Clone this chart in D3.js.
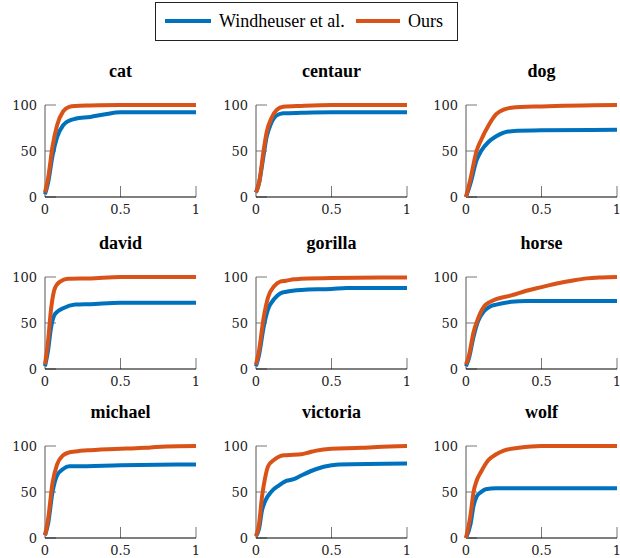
<!DOCTYPE html>
<html>
<head>
<meta charset="utf-8">
<script src="https://cdn.jsdelivr.net/npm/d3@7"></script>
<style>
  body { margin: 0; background: #fff; }
  svg { display: block; }
</style>
</head>
<body>
<svg width="620" height="558"></svg>
<script>
  const shapes = ['cat', 'centaur', 'dog', 'david', 'gorilla', 'horse', 'michael', 'victoria', 'wolf'];
  const seriesNames = ['Windheuser et al.', 'Ours'];
  const xTicks = [0, 0.5, 1];
  const yTicks = [0, 50, 100];

  // [x, percent] samples
  const windheuser = {
    cat:      [[0,3],[0.02,15],[0.05,45],[0.08,65],[0.12,78],[0.16,83],[0.2,85],[0.3,87],[0.4,90],[0.5,92],[0.6,92],[1,92]],
    centaur:  [[0,5],[0.02,15],[0.05,45],[0.07,65],[0.1,80],[0.14,89],[0.18,91],[0.3,91.5],[0.5,92],[1,92]],
    dog:      [[0,0],[0.03,15],[0.07,40],[0.1,50],[0.15,60],[0.2,66],[0.25,70],[0.3,71.5],[0.5,72.5],[1,73]],
    david:    [[0,3],[0.02,20],[0.04,45],[0.06,58],[0.08,62],[0.12,66],[0.2,70],[0.3,70.5],[0.5,72],[1,72]],
    gorilla:  [[0,3],[0.02,15],[0.05,45],[0.08,65],[0.12,76],[0.16,82],[0.2,84],[0.3,86],[0.5,87],[0.6,88],[1,88]],
    horse:    [[0,3],[0.02,12],[0.05,35],[0.08,52],[0.12,63],[0.16,68],[0.2,70],[0.3,73],[0.4,74],[1,74]],
    michael:  [[0,3],[0.02,15],[0.05,50],[0.08,68],[0.12,75],[0.16,78],[0.2,78],[0.5,79],[1,80]],
    victoria: [[0,2],[0.02,10],[0.04,30],[0.06,40],[0.1,50],[0.15,57],[0.2,62],[0.25,64],[0.3,68],[0.4,75],[0.5,79],[0.55,80],[1,81]],
    wolf:     [[0,0],[0.03,15],[0.05,35],[0.07,45],[0.1,50],[0.13,53],[0.2,54],[1,54]]
  };
  const ours = {
    cat:      [[0,5],[0.02,20],[0.05,55],[0.08,78],[0.12,93],[0.16,98],[0.2,99],[0.3,99.5],[0.5,100],[1,100]],
    centaur:  [[0,5],[0.02,15],[0.05,50],[0.07,70],[0.1,85],[0.14,95],[0.18,98],[0.3,99],[0.5,100],[1,100]],
    dog:      [[0,0],[0.03,20],[0.07,50],[0.1,62],[0.15,78],[0.2,90],[0.25,95],[0.3,97],[0.5,98.5],[1,100]],
    david:    [[0,5],[0.02,30],[0.04,65],[0.06,85],[0.08,92],[0.1,95],[0.15,98],[0.3,98.5],[0.5,100],[1,100]],
    gorilla:  [[0,5],[0.02,20],[0.05,55],[0.08,78],[0.12,90],[0.16,95],[0.2,96],[0.25,97.5],[0.3,98],[0.5,99],[1,99.5]],
    horse:    [[0,5],[0.02,15],[0.05,40],[0.08,55],[0.12,68],[0.16,73],[0.2,76],[0.3,80],[0.4,85],[0.5,89],[0.6,93],[0.7,96],[0.8,98.5],[0.9,99.5],[1,100]],
    michael:  [[0,3],[0.02,20],[0.05,60],[0.08,80],[0.12,90],[0.16,93],[0.2,94],[0.3,95.5],[0.5,97],[0.6,97.5],[0.7,98.5],[0.8,99.5],[1,100]],
    victoria: [[0,2],[0.02,15],[0.04,45],[0.06,65],[0.08,78],[0.12,85],[0.16,89],[0.2,90],[0.3,91],[0.35,93],[0.4,95],[0.5,97],[0.7,98],[0.8,99],[1,100]],
    wolf:     [[0,0],[0.03,25],[0.05,50],[0.07,62],[0.1,72],[0.15,85],[0.2,91],[0.25,95],[0.35,98],[0.5,100],[1,100]]
  };

  const colors = ['#0072BD', '#D95319'];
  const serif = '"Liberation Serif", serif';
  const tickFont = '"DejaVu Serif", serif';
  const svg = d3.select('svg');

  const colX = [45, 256, 466];
  const rowY = [105, 277, 446];
  const w = 151, h = 92;

  const x = d3.scaleLinear().domain([0, 1]).range([0, w]);
  const y = d3.scaleLinear().domain([0, 100]).range([h, 0]);
  const line = d3.line()
    .x(d => x(d[0]))
    .y(d => y(d[1]))
    .curve(d3.curveMonotoneX);

  shapes.forEach((name, i) => {
    const g = svg.append('g')
      .attr('transform', `translate(${colX[i % 3]},${rowY[Math.floor(i / 3)]})`);

    g.append('text')
      .attr('x', w / 2)
      .attr('y', -28)
      .attr('text-anchor', 'middle')
      .style('font-family', serif)
      .style('font-weight', '700')
      .style('font-size', '18px')
      .text(name);

    // tick marks (inside)
    g.selectAll('.xt').data(xTicks.slice(1)).enter().append('line')
      .attr('x1', d => x(d)).attr('x2', d => x(d))
      .attr('y1', h).attr('y2', h - 11)
      .attr('stroke', '#777').attr('stroke-width', 1);
    g.selectAll('.yt').data(yTicks).enter().append('line')
      .attr('x1', 0).attr('x2', 11)
      .attr('y1', d => y(d)).attr('y2', d => y(d))
      .attr('stroke', '#777').attr('stroke-width', 1);

    // axis lines
    g.append('line').attr('x1', 0).attr('x2', 0).attr('y1', 0).attr('y2', h)
      .attr('stroke', '#555').attr('stroke-width', 1);
    g.append('line').attr('x1', 0).attr('x2', w).attr('y1', h).attr('y2', h)
      .attr('stroke', '#000').attr('stroke-width', 1.2);

    // tick labels
    g.selectAll('.xl').data(xTicks).enter().append('text')
      .attr('x', d => x(d)).attr('y', h + 17)
      .attr('text-anchor', 'middle')
      .style('font-family', tickFont)
      .style('font-size', '13px')
      .attr('fill', '#222')
      .text(d => d);
    g.selectAll('.yl').data(yTicks).enter().append('text')
      .attr('x', -8).attr('y', d => y(d)).attr('dy', '0.35em')
      .attr('text-anchor', 'end')
      .style('font-family', tickFont)
      .style('font-size', '13px')
      .attr('fill', '#222')
      .text(d => d);

    [windheuser[name], ours[name]].forEach((data, k) => {
      g.append('path')
        .datum(data)
        .attr('d', line)
        .attr('fill', 'none')
        .attr('stroke', colors[k])
        .attr('stroke-width', 4)
        .attr('stroke-linejoin', 'round');
    });
  });

  // legend
  const legend = svg.append('g');
  legend.append('rect')
    .attr('x', 155.5).attr('y', 2.5).attr('width', 302).attr('height', 38)
    .attr('fill', '#fff').attr('stroke', '#222').attr('stroke-width', 1);
  const items = [
    { x1: 165, x2: 211, tx: 219 },
    { x1: 356, x2: 400, tx: 408 }
  ];
  seriesNames.forEach((s, k) => {
    legend.append('line')
      .attr('x1', items[k].x1).attr('x2', items[k].x2)
      .attr('y1', 21).attr('y2', 21)
      .attr('stroke', colors[k]).attr('stroke-width', 4);
    legend.append('text')
      .attr('x', items[k].tx).attr('y', 27)
      .style('font-family', serif)
      .style('font-size', '18px')
      .text(s);
  });
</script>
</body>
</html>
